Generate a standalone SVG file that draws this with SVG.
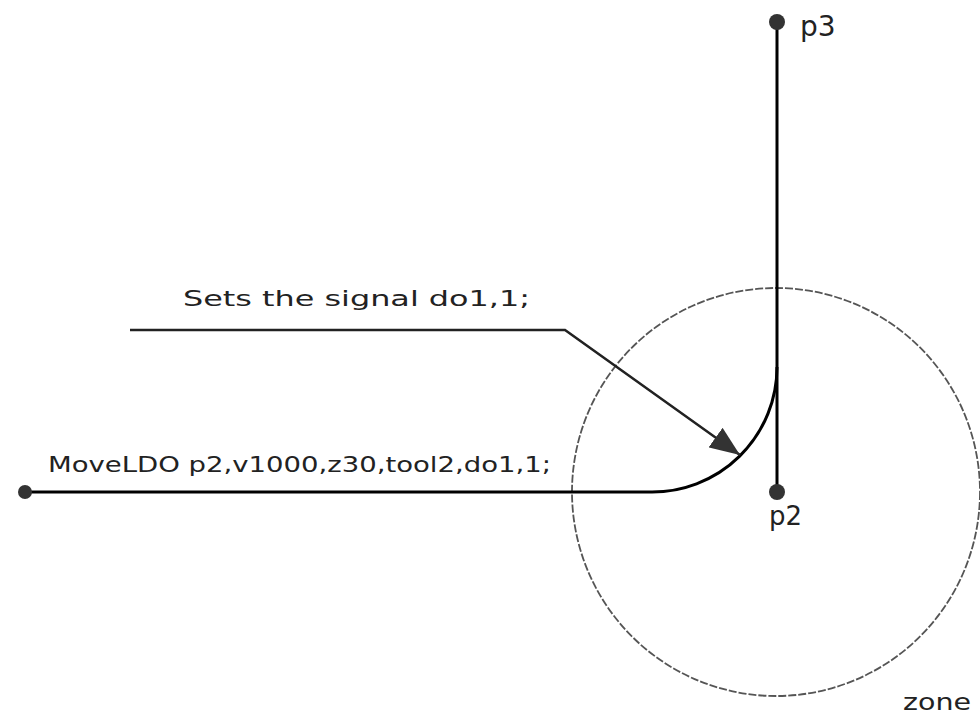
<svg xmlns="http://www.w3.org/2000/svg" width="980" height="721" viewBox="0 0 980 721">
<style>
.t{font-family:"DejaVu Sans","Liberation Sans",sans-serif;fill:#222}
.ln{stroke:#000;stroke-width:3;fill:none}
.dot{fill:#333}
</style>
<defs>
<marker id="ahb" markerWidth="30" markerHeight="24" refX="30" refY="12" orient="auto" markerUnits="userSpaceOnUse" viewBox="0 0 30 24">
<path d="M0,0 L30,12 L0,24 Z" fill="#333"/>
</marker>
</defs>
<rect width="980" height="721" fill="#fff"/>
<g id="zone">
<circle cx="776" cy="492" r="204" fill="none" stroke="#555" stroke-width="1.8" stroke-dasharray="8 2"/>
<text class="t" x="903" y="710" font-size="23" textLength="68" lengthAdjust="spacingAndGlyphs">zone</text>
</g>
<g id="connectors">
<path class="ln" d="M25,492 L650,492 A125,125 0 0 0 777,367"/>
<line class="ln" x1="777" y1="22" x2="777" y2="492"/>
<path d="M130,330 L565,330 L740,455" fill="none" stroke="#222" stroke-width="2.5" marker-end="url(#ahb)"/>
</g>
<g id="p1">
<circle class="dot" cx="25" cy="492" r="7"/>
<text class="t" x="48" y="472" font-size="22" textLength="503" lengthAdjust="spacingAndGlyphs">MoveLDO p2,v1000,z30,tool2,do1,1;</text>
</g>
<g id="p2">
<circle class="dot" cx="777" cy="492" r="8"/>
<text class="t" x="769" y="525" font-size="26">p2</text>
</g>
<g id="p3">
<circle class="dot" cx="777" cy="22" r="8"/>
<text class="t" x="800" y="36" font-size="28">p3</text>
</g>
<g id="label">
<text class="t" x="183" y="306" font-size="22" textLength="347" lengthAdjust="spacingAndGlyphs">Sets the signal do1,1;</text>
</g>
</svg>
